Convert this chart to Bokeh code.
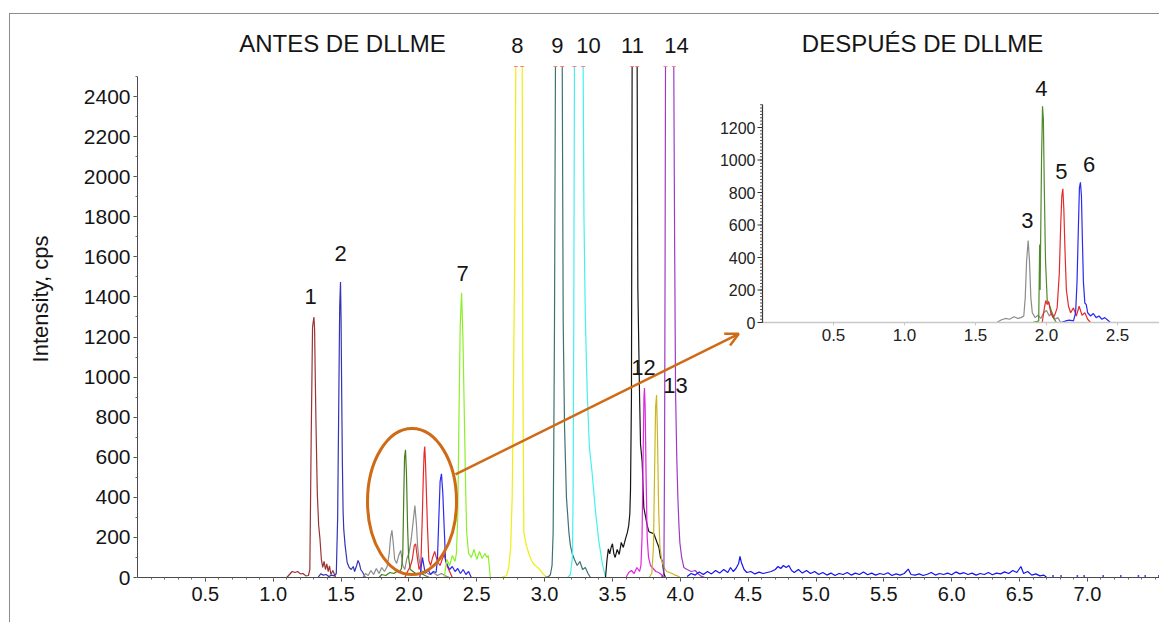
import numpy as np
from bokeh.plotting import figure
from bokeh.models import (Range1d, FixedTicker, PrintfTickFormatter, Label, Arrow, OpenHead)
from bokeh.core.properties import value
from bokeh.embed import file_html
from bokeh.resources import INLINE

NAN = float("nan")   # gap: peak top is off-scale (open top)

# ---------------- DATA ----------------
# main chromatogram (time in min, intensity in cps); 2550 = off-scale (clipped) top
t1 = [1.10, 1.12, 1.14, 1.16, 1.18, 1.20, 1.22, 1.24, 1.26, 1.27, 1.28, 1.29, 1.30, 1.305, 1.31, 1.315, 1.325, 1.335, 1.345, 1.355, 1.365, 1.375, 1.385, 1.395, 1.405, 1.415, 1.425, 1.44, 1.46]
i1 = [0, 15, 30, 25, 30, 18, 20, 8, 10, 40, 700, 1250, 1300, 1240, 1000, 780, 420, 260, 190, 90, 50, 80, 40, 68, 30, 58, 15, 35, 0]

t2 = [1.33, 1.35, 1.37, 1.39, 1.41, 1.43, 1.45, 1.465, 1.475, 1.485, 1.49, 1.496, 1.50, 1.505, 1.51, 1.515, 1.52, 1.53, 1.545, 1.56, 1.575, 1.59, 1.60, 1.615, 1.625, 1.635, 1.645, 1.66, 1.68]
i2 = [0, 18, 12, 15, 5, 12, 8, 20, 300, 1000, 1350, 1474, 1300, 900, 560, 330, 240, 160, 75, 50, 40, 55, 30, 60, 85, 70, 40, 25, 0]

t3 = [1.66, 1.68, 1.70, 1.72, 1.74, 1.76, 1.78, 1.80, 1.82, 1.84, 1.855, 1.865, 1.875, 1.885, 1.895, 1.91, 1.925, 1.94, 1.955, 1.97, 1.985, 2.00, 2.015, 2.03, 2.044, 2.055, 2.065, 2.075, 2.09, 2.10, 2.12, 2.15, 2.18, 2.21, 2.24, 2.27, 2.30]
i3 = [0, 20, 10, 35, 15, 45, 20, 50, 30, 55, 120, 200, 235, 170, 90, 70, 110, 135, 60, 40, 95, 120, 180, 270, 359, 270, 150, 90, 40, 25, 30, 15, 25, 10, 20, 8, 0]

t4 = [1.78, 1.80, 1.83, 1.86, 1.89, 1.91, 1.93, 1.945, 1.955, 1.962, 1.968, 1.975, 1.982, 1.99, 1.998, 2.01, 2.03, 2.06, 2.09, 2.12, 2.15]
i4 = [0, 15, 10, 25, 20, 30, 25, 45, 120, 400, 600, 637, 520, 260, 100, 40, 30, 15, 20, 10, 0]

t5 = [1.97, 1.99, 2.01, 2.025, 2.04, 2.05, 2.06, 2.075, 2.088, 2.098, 2.106, 2.112, 2.117, 2.123, 2.13, 2.137, 2.147, 2.16, 2.175, 2.19, 2.21, 2.23, 2.245, 2.26, 2.28, 2.30, 2.32]
i5 = [0, 30, 55, 90, 160, 168, 110, 40, 65, 284, 500, 620, 654, 560, 400, 250, 85, 60, 100, 130, 80, 60, 90, 115, 60, 30, 0]

t6 = [2.08, 2.10, 2.12, 2.14, 2.16, 2.18, 2.20, 2.21, 2.22, 2.23, 2.24, 2.25, 2.26, 2.27, 2.285, 2.30, 2.32, 2.34, 2.36, 2.38, 2.40, 2.42, 2.44, 2.46]
i6 = [0, 100, 20, 40, 15, 30, 25, 85, 284, 480, 517, 420, 250, 85, 60, 40, 55, 30, 45, 20, 40, 15, 30, 0]

t7 = [2.26, 2.28, 2.30, 2.32, 2.34, 2.35, 2.36, 2.368, 2.378, 2.388, 2.398, 2.41, 2.418, 2.426, 2.44, 2.46, 2.48, 2.50, 2.52, 2.54, 2.56, 2.575, 2.585, 2.60]
i7 = [0, 90, 60, 110, 80, 120, 300, 751, 1250, 1421, 1200, 751, 450, 225, 120, 100, 140, 90, 130, 95, 120, 100, 110, 0]

t8 = [2.59, 2.68, 2.72, 2.736, 2.75, 2.761, 2.77, 2.778, 2.788, 2.81, 2.835, 2.84, 2.847, 2.865, 2.884, 2.90, 2.92, 2.94, 2.957, 2.98, 3.007, 3.02]
i8 = [0, 0, 10, 50, 150, 400, 900, 1500, 2550, NAN, 2550, 1000, 225, 160, 120, 90, 67, 55, 45, 25, 6, 0]

t9 = [3.00, 3.03, 3.043, 3.055, 3.063, 3.068, 3.073, 3.08, 3.105, 3.13, 3.137, 3.147, 3.161, 3.179, 3.19, 3.203, 3.22, 3.24, 3.26, 3.28, 3.30, 3.32, 3.338]
i9 = [0, 5, 15, 60, 225, 700, 1277, 2550, NAN, 2550, 1277, 751, 400, 225, 160, 120, 90, 60, 80, 40, 50, 20, 0]

t10 = [3.17, 3.19, 3.205, 3.21, 3.215, 3.22, 3.25, 3.284, 3.29, 3.30, 3.314, 3.33, 3.35, 3.375, 3.40, 3.425, 3.449]
i10 = [0, 15, 100, 400, 1277, 2550, NAN, 2550, 1803, 1300, 926, 650, 524, 330, 180, 70, 0]

t11 = [3.449, 3.46, 3.47, 3.48, 3.49, 3.50, 3.51, 3.52, 3.535, 3.55, 3.565, 3.58, 3.595, 3.61, 3.62, 3.628, 3.633, 3.64, 3.645, 3.66, 3.682, 3.687, 3.70, 3.707, 3.719, 3.731, 3.745, 3.756, 3.768, 3.78, 3.805, 3.83, 3.842, 3.854, 3.866, 3.879, 3.89]
i11 = [0, 90, 143, 118, 150, 168, 120, 100, 140, 115, 175, 150, 190, 225, 260, 318, 435, 900, 2550, NAN, 2550, 1452, 900, 664, 576, 350, 300, 260, 230, 225, 218, 172, 151, 100, 85, 20, 0]

t12 = [3.60, 3.62, 3.64, 3.66, 3.68, 3.70, 3.71, 3.718, 3.726, 3.732, 3.736, 3.741, 3.748, 3.756, 3.766, 3.78, 3.80, 3.82, 3.84, 3.86, 3.88]
i12 = [0, 25, 35, 20, 50, 30, 60, 200, 600, 900, 945, 850, 500, 200, 100, 60, 45, 30, 25, 15, 0]

t13 = [3.77, 3.79, 3.802, 3.81, 3.818, 3.825, 3.832, 3.84, 3.85, 3.865, 3.88, 3.90, 3.92, 3.94, 3.96, 3.98, 4.00]
i13 = [0, 20, 150, 500, 850, 910, 700, 350, 150, 80, 50, 30, 25, 20, 12, 8, 0]

t14 = [3.86, 3.872, 3.879, 3.884, 3.888, 3.891, 3.92, 3.952, 3.958, 3.965, 3.974, 3.982, 3.99, 3.997, 4.01, 4.026, 4.05, 4.08, 4.11, 4.13, 4.15, 4.18]
i14 = [0, 10, 20, 600, 1600, 2550, NAN, 2550, 1700, 926, 600, 400, 260, 172, 100, 50, 40, 30, 35, 20, 8, 0]

t_late = [4.05, 4.08, 4.11, 4.14, 4.17, 4.20, 4.23, 4.26, 4.29, 4.32, 4.35, 4.37, 4.39, 4.41, 4.43, 4.44, 4.45, 4.47, 4.49, 4.52, 4.55, 4.58, 4.61, 4.64, 4.67, 4.70, 4.72, 4.74, 4.76, 4.78, 4.80, 4.82, 4.84, 4.87, 4.90, 4.93, 4.96, 4.99, 5.02, 5.05, 5.08, 5.11, 5.14, 5.17, 5.20, 5.23, 5.26, 5.29, 5.32, 5.35, 5.38, 5.41, 5.44, 5.47, 5.50, 5.53, 5.56, 5.59, 5.62, 5.65, 5.68, 5.70, 5.73, 5.76, 5.79, 5.82, 5.85, 5.88, 5.91, 5.94, 5.97, 6.00, 6.03, 6.06, 6.09, 6.12, 6.15, 6.18, 6.21, 6.24, 6.27, 6.30, 6.33, 6.36, 6.39, 6.42, 6.45, 6.48, 6.51, 6.53, 6.56, 6.59, 6.62, 6.65, 6.68, 6.70]
i_late = [5, 20, 12, 28, 15, 30, 18, 35, 22, 40, 25, 50, 30, 45, 70, 105, 75, 40, 25, 30, 18, 27, 20, 25, 30, 40, 55, 45, 60, 50, 60, 35, 25, 40, 22, 35, 20, 30, 15, 25, 12, 22, 10, 20, 15, 25, 12, 22, 15, 28, 14, 22, 12, 20, 15, 24, 10, 18, 12, 20, 42, 15, 12, 18, 10, 16, 25, 12, 20, 15, 22, 14, 28, 18, 24, 15, 22, 12, 20, 15, 25, 14, 22, 18, 28, 20, 35, 25, 55, 20, 30, 12, 18, 8, 12, 0]
t_dash = [6.74, 6.80, 6.92, 6.97, 7.11, 7.24, 7.37, 7.42, 7.52]
i_dash = [8, 8, 8, 8, 8, 8, 8, 8, 8]

# off-scale markers at the open tops of peaks 8, 9, 10, 11, 14
clip_t = [2.788, 2.835, 3.08, 3.13, 3.22, 3.284, 3.645, 3.682, 3.891, 3.952]
clip_i = [2550] * 10

# inset "DESPUÉS DE DLLME"
ti3 = [1.65, 1.68, 1.71, 1.74, 1.77, 1.80, 1.82, 1.84, 1.85, 1.86, 1.871, 1.88, 1.89, 1.90, 1.92, 1.94, 1.96, 1.98, 2.00, 2.02, 2.04, 2.06, 2.08, 2.10]
ii3 = [0, 15, 25, 20, 35, 25, 30, 40, 150, 380, 505, 380, 150, 60, 30, 45, 25, 60, 74, 40, 60, 20, 30, 0]
ti4 = [1.90, 1.93, 1.945, 1.952, 1.955, 1.958, 1.965, 1.972, 1.978, 1.985, 1.993, 2.005, 2.02, 2.035, 2.05, 2.07]
ii4 = [0, 5, 10, 480, 200, 450, 1000, 1330, 1250, 800, 381, 135, 110, 70, 25, 0]
ti5 = [1.97, 1.985, 1.995, 2.005, 2.015, 2.03, 2.045, 2.06, 2.075, 2.09, 2.10, 2.108, 2.115, 2.122, 2.13, 2.14, 2.155, 2.17, 2.19, 2.21, 2.23, 2.25, 2.27, 2.29, 2.31]
ii5 = [0, 90, 135, 110, 130, 60, 30, 50, 90, 300, 600, 780, 823, 700, 450, 200, 100, 60, 90, 40, 100, 45, 60, 20, 0]
ti6 = [2.10, 2.13, 2.16, 2.19, 2.205, 2.215, 2.225, 2.232, 2.239, 2.246, 2.253, 2.26, 2.27, 2.28, 2.29, 2.31, 2.33, 2.35, 2.37, 2.39, 2.41, 2.43, 2.45]
ii6 = [0, 8, 15, 10, 60, 250, 600, 830, 863, 780, 500, 250, 120, 110, 60, 40, 55, 30, 40, 20, 30, 15, 0]

# axis ticks
x_ticks = [0.5, 1.0, 1.5, 2.0, 2.5, 3.0, 3.5, 4.0, 4.5, 5.0, 5.5, 6.0, 6.5, 7.0]
y_ticks = [0, 200, 400, 600, 800, 1000, 1200, 1400, 1600, 1800, 2000, 2200, 2400]
inset_x_ticks = [0.5, 1.0, 1.5, 2.0, 2.5]
inset_y_ticks = [0, 200, 400, 600, 800, 1000, 1200]

# peak labels
main_lbl_text = ["1", "2", "7", "8", "9", "10", "11", "14", "12", "13"]
main_lbl_t = [1.275, 1.496, 2.395, 2.80, 3.095, 3.323, 3.648, 3.972, 3.729, 3.965]
main_lbl_i = [1402, 1617, 1517, 2655, 2655, 2655, 2655, 2655, 1048, 958]
inset_lbl_text = ["3", "4", "5", "6"]
inset_lbl_t = [1.866, 1.964, 2.104, 2.30]
inset_lbl_i = [628, 1443, 929, 972]

# ---------------- LAYOUT GEOMETRY (page pixels) ----------------
OX, OY = 10, 14                       # canvas origin on the page (after the frame border)
W, H = 1160 - OX, 623 - OY
FL, FR, FT, FB = 137, 1160, 20, 577   # plot frame edges on the page
PX_MIN, PX_CPS = 135.7, 0.2004        # main scale
IX0, IY0, IPX_MIN, IPX_CPS = 762, 322, 142.0, 0.1625   # inset origin & scale (page)

FONT = "Liberation Sans"
INK = "#151515"

p = figure(width=W, height=H, output_backend="svg", toolbar_location=None,
           x_range=Range1d(0, (FR - FL) / PX_MIN), y_range=Range1d(0, (FB - FT) / PX_CPS),
           min_border_left=FL - OX, min_border_right=0, min_border_top=FT - OY,
           min_border_bottom=(OY + H) - FB, background_fill_color="white",
           styles={"margin-left": "%dpx" % (OX - 1), "margin-top": "%dpx" % (OY - 1),
                   "border-left": "1px solid #8c8c8c", "border-top": "1px solid #8c8c8c"})
p.grid.visible = False
p.outline_line_color = None
p.extra_x_ranges = {"ix": Range1d((FL - IX0) / IPX_MIN, (FR - IX0) / IPX_MIN)}
p.extra_y_ranges = {"iy": Range1d((IY0 - FB) / IPX_CPS, (IY0 - FT) / IPX_CPS)}

# main axes
xa = p.xaxis[0]
xa.ticker = FixedTicker(ticks=x_ticks, minor_ticks=[k / 10 for k in range(1, 76)])
xa.formatter = PrintfTickFormatter(format="%.1f")
xa.bounds = (0, (FR - FL) / PX_MIN)
ya = p.yaxis[0]
ya.ticker = FixedTicker(ticks=y_ticks, minor_ticks=list(range(0, 2501, 100)))
ya.bounds = (0, 2500)
ya.axis_label = "Intensity, cps"
ya.axis_label_text_font_style = "normal"
ya.axis_label_text_font = FONT
ya.axis_label_text_font_size = "22px"
ya.axis_label_text_color = INK
ya.axis_label_standoff = 28
for ax in (xa, ya):
    ax.axis_line_color = "#4a4a4a"
    ax.major_tick_line_color = "#4a4a4a"
    ax.minor_tick_line_color = "#6a6a6a"
    ax.major_tick_in = 0
    ax.major_tick_out = 4
    ax.minor_tick_in = 0
    ax.minor_tick_out = 2
    ax.major_label_text_font = FONT
    ax.major_label_text_color = INK
xa.major_label_text_font_size = "20px"
ya.major_label_text_font_size = "21px"
xa.major_label_standoff = 5
ya.major_label_standoff = 3

traces = [
    (t1, i1, "#9a3434"), (t2, i2, "#3434b4"), (t3, i3, "#8c8c8c"), (t4, i4, "#457e1e"),
    (t5, i5, "#e42a2a"), (t6, i6, "#2a2af0"), (t7, i7, "#8cf028"), (t8, i8, "#eeee10"),
    (t9, i9, "#3e7272"), (t10, i10, "#44f0f0"), (t11, i11, "#151515"), (t12, i12, "#e024e0"),
    (t13, i13, "#c8b820"), (t14, i14, "#9a3cc8"), (t_late, i_late, "#1414f0"),
]
for tt, ii, col in traces:
    p.line(np.array(tt, dtype=float), np.array(ii, dtype=float), line_color=col, line_width=1.2)
p.segment(x0=t_dash, y0=i_dash, x1=[t + 0.012 for t in t_dash], y1=i_dash,
          line_color="#1414f0", line_width=1.5)
p.scatter(clip_t, clip_i, marker="dash", size=4, line_color="#ff8080", line_width=1.2)

# ellipse and arrow
ORANGE = "#cf6a16"
p.ellipse(x=[2.023], y=[379], width=[0.656], height=[729], fill_color=None,
          line_color=ORANGE, line_width=3)
p.add_layout(Arrow(end=OpenHead(size=13, line_color=ORANGE, line_width=2.5),
                   x_start=2.343, y_start=514, x_end=4.431, y_end=1216,
                   line_color=ORANGE, line_width=2.5))

# titles and peak labels
p.text(x=[(342 - FL) / PX_MIN, (922 - FL) / PX_MIN], y=[(FB - 43) / PX_CPS] * 2,
       text=["ANTES DE DLLME", "DESPUÉS DE DLLME"], text_align="center",
       text_baseline="middle", text_font=value(FONT), text_font_size="24px", text_color=INK)
p.text(x=main_lbl_t, y=main_lbl_i, text=main_lbl_text, text_align="center",
       text_baseline="middle", text_font=value(FONT), text_font_size="22px", text_color=INK)

# ---------------- inset ----------------
for tt, ii, col in [(ti3, ii3, "#8c8c8c"), (ti4, ii4, "#4f8a2c"), (ti5, ii5, "#e42a2a"), (ti6, ii6, "#2a2af0")]:
    p.line(tt, ii, line_color=col, line_width=1.2, x_range_name="ix", y_range_name="iy")
p.text(x=inset_lbl_t, y=inset_lbl_i, text=inset_lbl_text, text_align="center",
       text_baseline="middle", text_font=value(FONT), text_font_size="22px", text_color=INK,
       x_range_name="ix", y_range_name="iy")
# inset axes
p.segment(x0=[0], y0=[0], x1=[(FR + 5 - IX0) / IPX_MIN], y1=[0], line_color="#c8c8c8",
          line_width=1.5, x_range_name="ix", y_range_name="iy")
p.segment(x0=[0], y0=[0], x1=[0], y1=[1341], line_color="#333333", line_width=1.2,
          x_range_name="ix", y_range_name="iy")
minor_y = list(range(0, 1341, 20))
p.segment(x0=[-2.5 / IPX_MIN] * len(minor_y), y0=minor_y, x1=[0] * len(minor_y), y1=minor_y,
          line_color="#555555", line_width=1, x_range_name="ix", y_range_name="iy")
p.segment(x0=[-5 / IPX_MIN] * len(inset_y_ticks), y0=inset_y_ticks, x1=[0] * len(inset_y_ticks),
          y1=inset_y_ticks, line_color="#333333", line_width=1, x_range_name="ix", y_range_name="iy")
p.text(x=[-7 / IPX_MIN] * len(inset_y_ticks), y=inset_y_ticks, text=[str(v) for v in inset_y_ticks],
       text_align="right", text_baseline="middle", text_font=value(FONT), text_font_size="16px",
       text_color="#222222", x_range_name="ix", y_range_name="iy")
p.segment(x0=inset_x_ticks, y0=[0] * 5, x1=inset_x_ticks, y1=[-3 / IPX_CPS] * 5,
          line_color="#c8c8c8", line_width=1, x_range_name="ix", y_range_name="iy")
p.text(x=inset_x_ticks, y=[-6 / IPX_CPS] * 5, text=["%.1f" % v for v in inset_x_ticks],
       text_align="center", text_baseline="top", text_font=value(FONT), text_font_size="17px",
       text_color="#222222", x_range_name="ix", y_range_name="iy")

# x axis title
p.add_layout(Label(x=(632 - FL) / PX_MIN, y=(FB - 602) / PX_CPS, text="Time, min",
                   text_align="center", text_baseline="top", text_font=FONT,
                   text_font_size="19px", text_color=INK))

open("out.html", "w").write(file_html(p, INLINE))
